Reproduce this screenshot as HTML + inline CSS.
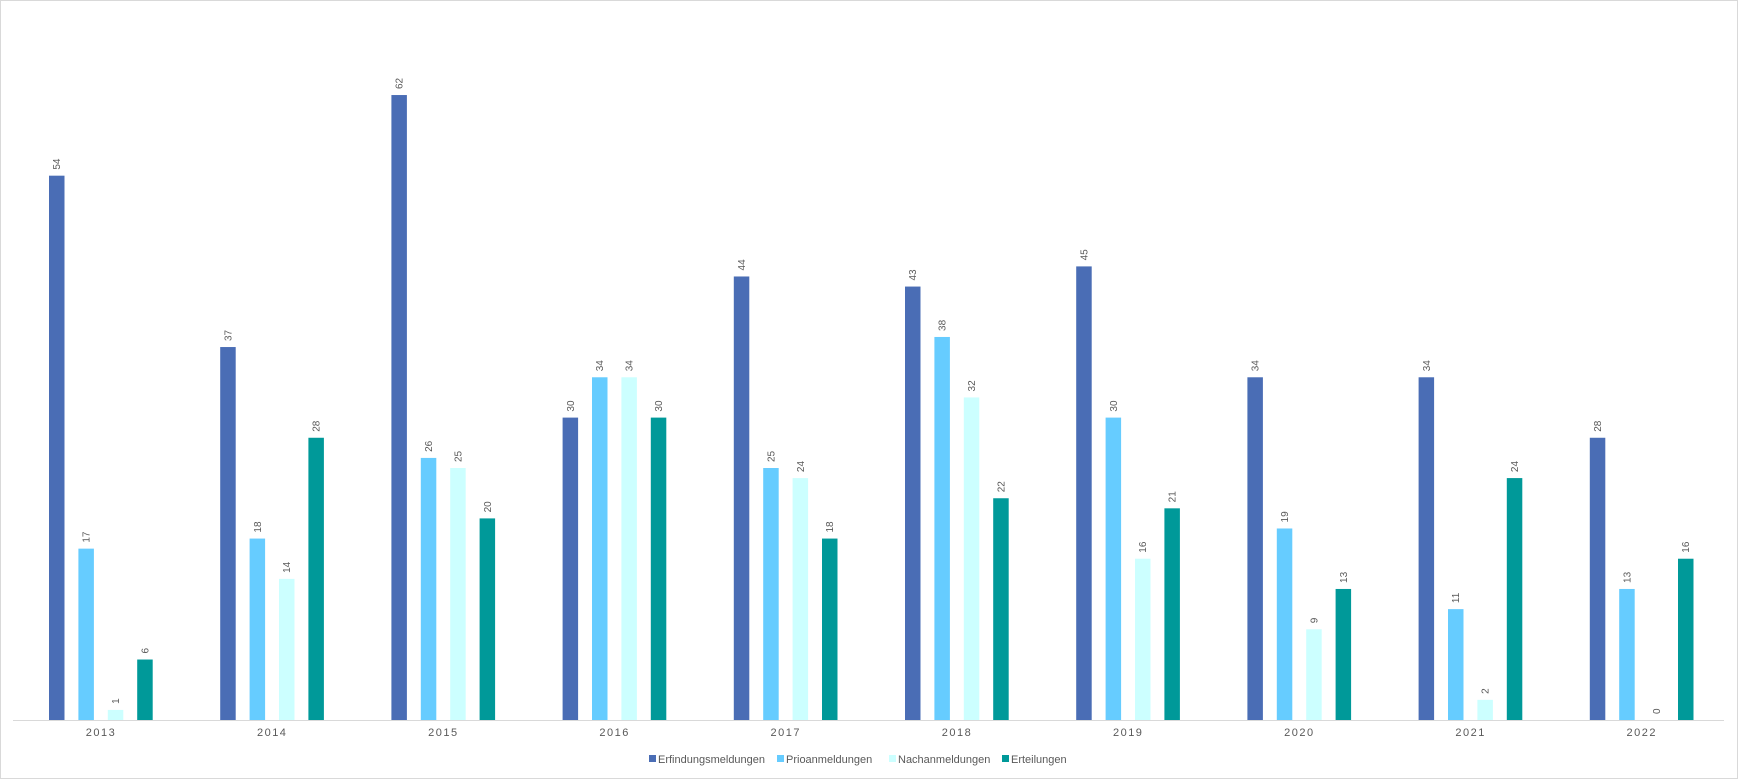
<!DOCTYPE html>
<html><head><meta charset="utf-8"><style>
body{margin:0;background:#fff;}
svg{display:block;font-family:"Liberation Sans",sans-serif;}
</style></head><body>
<svg id="chart" width="1738" height="779">
<rect x="0.5" y="0.5" width="1737" height="778" fill="#fff" stroke="#d9d9d9"/>
<line x1="13" y1="720.5" x2="1724" y2="720.5" stroke="#d9d9d9"/>
<g id="bars"></g>
<g id="xlabels"></g>
<g id="legend"></g>
</svg>
<script>
const categories=["2013","2014","2015","2016","2017","2018","2019","2020","2021","2022"];
const seriesNames=["Erfindungsmeldungen","Prioanmeldungen","Nachanmeldungen","Erteilungen"];
const erfindungsmeldungen=[54,37,62,30,44,43,45,34,34,28];
const prioanmeldungen=[17,18,26,34,25,38,30,19,11,13];
const nachanmeldungen=[1,14,25,34,24,32,16,9,2,0];
const erteilungen=[6,28,20,30,18,22,21,13,24,16];
const series=[erfindungsmeldungen,prioanmeldungen,nachanmeldungen,erteilungen];
const colors=["#4a6db5","#66ccff","#ccffff","#009999"];
const NS="http://www.w3.org/2000/svg";
const y0=720, pxPerUnit=10.08;
const yScale=v=>y0-v*pxPerUnit;
const groupX=i=>49+i*171.2;
const barW=15.5, barStep=29.4;
const bars=document.getElementById('bars');
const xl=document.getElementById('xlabels');
const lg=document.getElementById('legend');
function mk(tag,attrs,parent){const e=document.createElementNS(NS,tag);for(const k in attrs)e.setAttribute(k,attrs[k]);parent.appendChild(e);return e;}
categories.forEach((c,i)=>{
  series.forEach((s,j)=>{
    const x=groupX(i)+j*barStep, y=yScale(s[i]);
    const r=mk('rect',{x:x,y:y,width:barW,height:y0-y,fill:colors[j]},bars);
    
    
    const tx=x+barW/2+3.5, ty=y-6;
    const t=mk('text',{x:tx,y:ty,'font-size':10,fill:'#595959',transform:'rotate(-90 '+tx+' '+ty+')'},bars);
    t.textContent=s[i];
    
    
  });
  const t=mk('text',{x:groupX(i)+52,y:736,'font-size':11,fill:'#595959','text-anchor':'middle','letter-spacing':'1.5'},xl);
  t.textContent=c;
  
  
});
const legX=[649,777,889,1002];
seriesNames.forEach((n,j)=>{
  const g=mk('g',{},lg);
  
  
  mk('rect',{x:legX[j],y:755,width:7,height:7,fill:colors[j]},g);
  const t=mk('text',{x:legX[j]+9,y:763,'font-size':11,fill:'#595959'},g);
  t.textContent=n;
});
</script>
</body></html>
